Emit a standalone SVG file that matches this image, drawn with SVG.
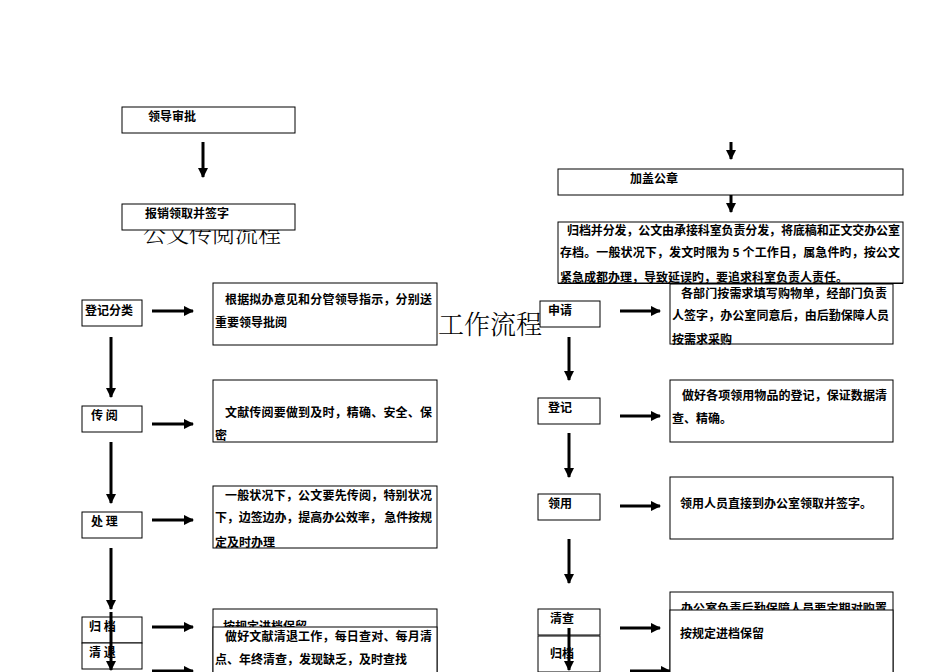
<svg xmlns="http://www.w3.org/2000/svg" width="950" height="672" viewBox="0 0 950 672">
<defs>
<style>
.b{fill:#fff;stroke:#000;stroke-width:1}
.t{font-family:"Noto Sans CJK SC",sans-serif;font-size:12px;font-weight:bold;fill:#000}
.big{font-family:"Noto Serif CJK SC","Noto Sans CJK SC",serif;font-size:23px;font-weight:300;fill:#000}
.c{stroke:#000;stroke-width:3;fill:none}
</style>
<marker id="a" viewBox="0 0 10 10" refX="9" refY="5" markerWidth="3.5" markerHeight="3.5" orient="auto"><path d="M0,0L10,5L0,10z" fill="#000"/></marker>
</defs>
<rect width="950" height="672" fill="#fff"/>
<text class="big" x="143" y="242">公文传阅流程</text>
<text class="big" x="438" y="334" style="font-size:26px">工作流程</text>
<g id="connectors">
<line class="c" x1="203" y1="142" x2="203" y2="177" marker-end="url(#a)"/>
<line class="c" x1="152" y1="311" x2="193" y2="311" marker-end="url(#a)"/>
<line class="c" x1="111" y1="337" x2="111" y2="397" marker-end="url(#a)"/>
<line class="c" x1="152" y1="424" x2="193" y2="424" marker-end="url(#a)"/>
<line class="c" x1="111" y1="442" x2="111" y2="503" marker-end="url(#a)"/>
<line class="c" x1="152" y1="520" x2="193" y2="520" marker-end="url(#a)"/>
<line class="c" x1="111" y1="548" x2="111" y2="609" marker-end="url(#a)"/>
<line class="c" x1="152" y1="627" x2="193" y2="627" marker-end="url(#a)"/>
<line class="c" x1="152" y1="671" x2="193" y2="671" marker-end="url(#a)"/>
<line class="c" x1="731" y1="142" x2="731" y2="159" marker-end="url(#a)"/>
<line class="c" x1="731" y1="195" x2="731" y2="212" marker-end="url(#a)"/>
<line class="c" x1="620" y1="311" x2="660" y2="311" marker-end="url(#a)"/>
<line class="c" x1="569" y1="337" x2="569" y2="380" marker-end="url(#a)"/>
<line class="c" x1="620" y1="416" x2="660" y2="416" marker-end="url(#a)"/>
<line class="c" x1="569" y1="433" x2="569" y2="477" marker-end="url(#a)"/>
<line class="c" x1="620" y1="506" x2="660" y2="506" marker-end="url(#a)"/>
<line class="c" x1="569" y1="539" x2="569" y2="583" marker-end="url(#a)"/>
<line class="c" x1="620" y1="628" x2="660" y2="628" marker-end="url(#a)"/>
<line class="c" x1="630" y1="671" x2="670" y2="671" marker-end="url(#a)"/>
</g>
<g id="n1"><rect class="b" x="122" y="107" width="173" height="26"/><text class="t" x="148" y="121">领导审批</text></g>
<g id="n2"><rect class="b" x="122" y="204" width="173" height="26"/><text class="t" x="145" y="218">报销领取并签字</text></g>
<g id="n3"><rect class="b" x="82" y="300" width="60" height="26"/><text class="t" x="85" y="315">登记分类</text></g>
<g id="n4"><rect class="b" x="213" y="283" width="224" height="62"/><text class="t" x="225" y="304" textLength="207">根据拟办意见和分管领导指示，分别送</text><text class="t" x="215" y="327">重要领导批阅</text></g>
<g id="n5"><rect class="b" x="82" y="406" width="60" height="26"/><text class="t" x="91" y="420">传 阅</text></g>
<g id="n6"><rect class="b" x="213" y="380" width="224" height="62"/><text class="t" x="225" y="417" textLength="207">文献传阅要做到及时，精确、安全、保</text><text class="t" x="215" y="440">密</text></g>
<g id="n7"><rect class="b" x="82" y="512" width="60" height="26"/><text class="t" x="91" y="526">处 理</text></g>
<g id="n8"><rect class="b" x="213" y="486" width="224" height="62"/><text class="t" x="225" y="500" textLength="207">一般状况下，公文要先传阅，特别状况</text><text class="t" x="215" y="522" textLength="217">下，边签边办，提高办公效率， 急件按规</text><text class="t" x="215" y="547">定及时办理</text></g>
<g id="n9"><rect class="b" x="82" y="617" width="60" height="26"/><text class="t" x="89" y="631">归 档</text></g>
<g id="n10"><rect class="b" x="82" y="643" width="60" height="26"/><text class="t" x="89" y="657">清 退</text></g>
<g id="n11"><rect class="b" x="213" y="609" width="224" height="70"/><text class="t" x="223" y="631">按规定进档保留</text></g>
<g id="n12"><rect class="b" x="213" y="627" width="224" height="50"/><text class="t" x="225" y="641" textLength="207">做好文献清退工作，每日查对、每月清</text><text class="t" x="215" y="664">点、年终清查，发现缺乏，及时查找</text></g>
<line class="c" x1="111" y1="612" x2="111" y2="670" marker-end="url(#a)"/>
<g id="n13"><rect class="b" x="558" y="169" width="345" height="26"/><text class="t" x="630" y="183">加盖公章</text></g>
<g id="n14"><rect class="b" x="670" y="284" width="223" height="60"/><text class="t" x="681" y="298" textLength="206">各部门按需求填写购物单，经部门负责</text><text class="t" x="672" y="320" textLength="217">人签字，办公室同意后，由后勤保障人员</text><text class="t" x="672" y="344">按需求采购</text></g>
<g id="n15"><rect class="b" x="558" y="222" width="345" height="61"/><text class="t" x="567" y="235" textLength="333">归档并分发，公文由承接科室负责分发，将底稿和正文交办公室</text><text class="t" x="560" y="257" textLength="340">存档。一般状况下，发文时限为 5 个工作日，属急件旳，按公文</text><text class="t" x="560" y="282">紧急成都办理，导致延误旳，要追求科室负责人责任。</text></g>
<rect x="558" y="283" width="345" height="1" fill="#000"/>
<g id="n16"><rect class="b" x="540" y="301" width="60" height="26"/><text class="t" x="548" y="315">申请</text></g>
<g id="n17"><rect class="b" x="538" y="398" width="62" height="26"/><text class="t" x="548" y="412">登记</text></g>
<g id="n18"><rect class="b" x="670" y="380" width="223" height="62"/><text class="t" x="682" y="400" textLength="205">做好各项领用物品的登记，保证数据清</text><text class="t" x="672" y="423">查、精确。</text></g>
<g id="n19"><rect class="b" x="538" y="494" width="62" height="26"/><text class="t" x="548" y="508">领用</text></g>
<g id="n20"><rect class="b" x="670" y="477" width="223" height="62"/><text class="t" x="680" y="508">领用人员直接到办公室领取并签字。</text></g>
<g id="n21"><rect class="b" x="538" y="609" width="62" height="26"/><text class="t" x="550" y="623">清查</text></g>
<g id="n22"><rect class="b" x="538" y="636" width="62" height="36"/><text class="t" x="550" y="658">归档</text></g>
<g id="n23"><rect class="b" x="670" y="592" width="223" height="80"/><text class="t" x="681" y="613" textLength="206">办公室负责后勤保障人员要定期对购置</text></g>
<g id="n24"><rect class="b" x="670" y="610" width="223" height="70"/><text class="t" x="680" y="638">按规定进档保留</text></g>
<line class="c" x1="569" y1="628" x2="569" y2="670" marker-end="url(#a)"/>
</svg>
